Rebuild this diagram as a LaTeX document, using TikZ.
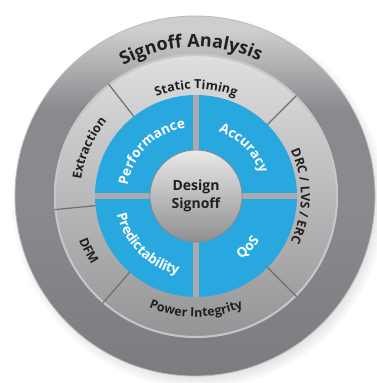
\documentclass[tikz,border=0pt]{standalone}
\usepackage{fontspec}
\setmainfont{Open Sans}
\usetikzlibrary{decorations.text,shadows,fadings}

\definecolor{bandtop}{HTML}{CDCECF}
\definecolor{bandmid}{HTML}{898A8D}
\definecolor{bandlow}{HTML}{7B7C7F}
\definecolor{bandrim}{HTML}{B9BABC}
\definecolor{segtop}{HTML}{DFDFE0}
\definecolor{seglow}{HTML}{939496}
\definecolor{rimgray}{HTML}{C6C7C9}
\definecolor{divgray}{HTML}{6E6F71}
\definecolor{sigblue}{HTML}{29A8E0}
\definecolor{gapgray}{HTML}{A9AAAC}
\definecolor{coretop}{HTML}{E9E9EA}
\definecolor{corelow}{HTML}{8E8F91}
\definecolor{coregray}{HTML}{88898B}
\definecolor{inktext}{HTML}{231F20}

%% light only near the top of the band
\pgfdeclareverticalshading{bandshade}{100bp}{color(0bp)=(bandlow); color(25bp)=(bandlow);
  color(48bp)=(bandmid); color(62bp)=(bandmid); color(73bp)=(bandtop); color(100bp)=(bandtop)}

\newcommand\bandfont{\fontsize{18}{18}\selectfont\bfseries\color{inktext}}
\newcommand\ringfont{\fontsize{12.5}{12.5}\selectfont\bfseries\color{inktext}}
\newcommand\bluefont{\fontsize{13.5}{13.5}\selectfont\bfseries\color{white}}

\tikzset{
  arc label/.style={decorate,decoration={text along path,text align=center,text={#1}}},
  divider/.style={draw=divgray,line width=1.2pt},
  gap/.style={draw=gapgray,line width=6pt},
  core/.style={circle,minimum size=92pt,inner sep=0pt,draw=coregray,line width=.8pt,
    top color=coretop,bottom color=corelow,align=center,text=inktext,
    font=\fontsize{14}{17.5}\selectfont\bfseries},
}

\begin{document}
\begin{tikzpicture}[x=1pt,y=1pt]
  \useasboundingbox (0,0) rectangle (376,383);
  \coordinate (hub) at (196,187);

  %% outer band, with its shadow
  \shadedraw[shading=bandshade,draw=bandrim,line width=.8pt,
    circular drop shadow={shadow xshift=3pt,shadow yshift=-5pt,opacity=.45,shadow scale=1.04}]
    (195,187) circle[radius=180];

  \begin{scope}[shift={(hub)}]
    %% ring of the five checks
    \shade[top color=segtop,bottom color=seglow] (0,0) circle[radius=142];
    \draw[draw=rimgray,line width=2pt] (0,0) circle[radius=141];
    \foreach \a in {45,128,185.5,229,315}
      \draw[divider] (\a:101) -- (\a:142);

    %% blue quadrants and the cross between them
    \fill[sigblue] (0,0) circle[radius=101];
    \draw[gap] (-101,0) -- (101,0);
    \draw[gap] (0,-101) -- (0,101);

    %% curved labels: clockwise ones face out, the others face in
    \path[arc label={|\bandfont|Signoff Analysis}] (160:149) arc[start angle=160,end angle=24,radius=149];
    \path[arc label={|\ringfont|Static Timing}] (150:107) arc[start angle=150,end angle=30,radius=107];
    \path[arc label={|\ringfont|Extraction}] (216:116) arc[start angle=216,end angle=96,radius=116];
    \path[arc label={|\ringfont|DRC / LVS / ERC}] (60:105) arc[start angle=60,end angle=-60,radius=105];
    \path[arc label={|\ringfont|DFM}] (167:125) arc[start angle=167,end angle=247,radius=125];
    \path[arc label={|\ringfont|Power Integrity}] (210:121) arc[start angle=210,end angle=330,radius=121];
    \path[arc label={|\bluefont|Performance}] (195:69) arc[start angle=195,end angle=75,radius=69];
    \path[arc label={|\bluefont|Accuracy}] (105:68) arc[start angle=105,end angle=-15,radius=68];
    \path[arc label={|\bluefont|Predictability}] (165:81) arc[start angle=165,end angle=285,radius=81];
    \path[arc label={|\bluefont|QoS}] (-105:78) arc[start angle=-105,end angle=15,radius=78];
  \end{scope}

  \node[core] (core) at (hub) {Design\\Signoff};
\end{tikzpicture}
\end{document}
